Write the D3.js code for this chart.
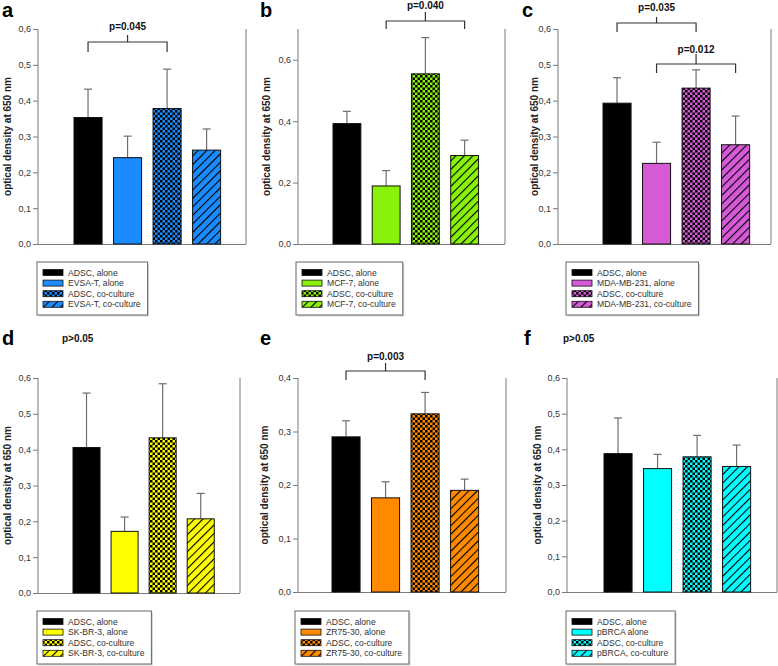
<!DOCTYPE html>
<html><head><meta charset="utf-8">
<script src="https://cdnjs.cloudflare.com/ajax/libs/d3/7.8.5/d3.min.js"></script>
<style>
html,body{margin:0;padding:0;background:#fff;}
svg{display:block;font-family:"Liberation Sans",Arial,sans-serif;}
</style></head>
<body>
<svg id="chart" width="778" height="666"></svg>
<script>
// ---------- DATA ----------
const panelLetters = ["a","b","c","d","e","f"];
const cellLines = ["EVSA-T","MCF-7","MDA-MB-231","SK-BR-3","ZR75-30","pBRCA"];
const groups = ["ADSC alone","cells alone","ADSC co-culture","cells co-culture"];
const legendA = ["ADSC, alone","EVSA-T, alone","ADSC, co-culture","EVSA-T, co-culture"];
const legendB = ["ADSC, alone","MCF-7, alone","ADSC, co-culture","MCF-7, co-culture"];
const legendC = ["ADSC, alone","MDA-MB-231, alone","ADSC, co-culture","MDA-MB-231, co-culture"];
const legendD = ["ADSC, alone","SK-BR-3, alone","ADSC, co-culture","SK-BR-3, co-culture"];
const legendE = ["ADSC, alone","ZR75-30, alone","ADSC, co-culture","ZR75-30, co-culture"];
const legendF = ["ADSC, alone","pBRCA alone","ADSC, co-culture","pBRCA, co-culture"];
const meanA = [0.353, 0.241, 0.378, 0.262];
const errA  = [0.079, 0.060, 0.110, 0.059];
const meanB = [0.392, 0.189, 0.554, 0.288];
const errB  = [0.040, 0.050, 0.118, 0.050];
const meanC = [0.393, 0.225, 0.435, 0.277];
const errC  = [0.071, 0.059, 0.051, 0.080];
const meanD = [0.406, 0.172, 0.433, 0.207];
const errD  = [0.152, 0.040, 0.151, 0.071];
const meanE = [0.290, 0.176, 0.333, 0.190];
const errE  = [0.030, 0.030, 0.040, 0.021];
const meanF = [0.388, 0.346, 0.379, 0.352];
const errF  = [0.100, 0.040, 0.060, 0.060];
const yMaxes = [0.6, 0.7, 0.6, 0.6, 0.4, 0.6];
const tickA = [0,0.1,0.2,0.3,0.4,0.5,0.6];
const tickB = [0,0.2,0.4,0.6];
const tickE = [0,0.1,0.2,0.3,0.4];
// significance: [fromBar, toBar, label]
const sigA = [[0,2,"p=0.045"]];
const sigB = [[1,3,"p=0.040"]];
const sigC = [[0,2,"p=0.035"],[1,3,"p=0.012"]];
const sigD = [[null,null,"p>0.05"]];
const sigE = [[0,2,"p=0.003"]];
const sigF = [[null,null,"p>0.05"]];
const cellColors = ["#1a8cff","#88f20a","#d65ad6","#ffff00","#ff8a00","#00ffff"];
const yTitle = "optical density at 650 nm";

// ---------- LAYOUT ----------
const layouts = [
 {ax:38, rx:246, top:29, bot:244, b0:74,  b1:210, lab:31, leg:[37,262],  letter:[2,17],
  sig:[{hy:42,dn:52,up:35,ty:30}]},
 {ax:298, rx:505, top:29, bot:244, b0:333, b1:468, lab:32, leg:[296,262], letter:[260,17],
  sig:[{hy:21,dn:29,up:12,ty:9}]},
 {ax:558, rx:771, top:29, bot:244, b0:603, b1:739, lab:24, leg:[566,262], letter:[522,17],
  sig:[{hy:23,dn:32,up:17,ty:11},{hy:64,dn:73,up:54,ty:52.5}]},
 {ax:38, rx:240, top:378, bot:593, b0:73, b1:204, lab:31, leg:[37,611], letter:[2,345],
  sig:[{tx:62,ty:342}]},
 {ax:298, rx:506, top:378, bot:592, b0:332, b1:468, lab:34, leg:[295,611], letter:[260,345],
  sig:[{hy:371,dn:380,up:363,ty:360}]},
 {ax:567, rx:777, top:378, bot:592, b0:604, b1:740, lab:30, leg:[566,611], letter:[524,345],
  sig:[{tx:563,ty:342}]}
];
const means = [meanA,meanB,meanC,meanD,meanE,meanF];
const errs = [errA,errB,errC,errD,errE,errF];
const legends = [legendA,legendB,legendC,legendD,legendE,legendF];
const ticks = [tickA,tickB,tickA,tickA,tickE,tickA];
const sigs = [sigA,sigB,sigC,sigD,sigE,sigF];

const svg = d3.select("#chart");
const defs = svg.append("defs");
const fmt = d3.formatLocale({decimal:",",thousands:".",grouping:[3],currency:["","€"]}).format(".1f");

cellColors.forEach((c,i)=>{
  const pc = defs.append("pattern").attr("id","chk"+i).attr("patternUnits","userSpaceOnUse")
    .attr("width",5).attr("height",5);
  pc.append("rect").attr("width",5).attr("height",5).attr("fill",c);
  pc.append("rect").attr("width",2.5).attr("height",2.5).attr("fill","#000");
  pc.append("rect").attr("x",2.5).attr("y",2.5).attr("width",2.5).attr("height",2.5).attr("fill","#000");
  const ph = defs.append("pattern").attr("id","hat"+i).attr("patternUnits","userSpaceOnUse")
    .attr("width",6).attr("height",6).attr("patternTransform","rotate(45)");
  ph.append("rect").attr("width",6).attr("height",6).attr("fill",c);
  ph.append("line").attr("x1",0).attr("y1",-1).attr("x2",0).attr("y2",7)
    .attr("stroke","#000").attr("stroke-width",2.2);
});

function fills(i){ return ["#000", cellColors[i], `url(#chk${i})`, `url(#hat${i})`]; }

layouts.forEach((L,i)=>{
  const g = svg.append("g");
  const y = d3.scaleLinear().domain([0,yMaxes[i]]).range([L.bot,L.top]);
  const x = d3.scaleBand().domain(groups).paddingInner(0.29).paddingOuter(0);
  const step = (L.b1-L.b0)/(groups.length-0.29);
  x.range([L.b0, L.b0 + step*groups.length]);
  const bw = x.bandwidth();
  const f = fills(i);

  // axes
  const ya = g.append("g").attr("transform",`translate(${L.ax},0)`)
    .call(d3.axisLeft(y).tickValues(ticks[i]).tickFormat(fmt).tickSize(5).tickPadding(2).tickSizeOuter(0));
  ya.select(".domain").attr("stroke","#7a7a7a").attr("d",`M0,${L.top}V${L.bot}`);
  ya.selectAll(".tick line").attr("stroke","#7a7a7a");
  ya.selectAll(".tick text").attr("fill","#333").style("font-size","9px")
    .style("font-family","'Liberation Sans',Arial,sans-serif");
  g.append("line").attr("x1",L.ax).attr("x2",L.rx).attr("y1",L.bot+0.5).attr("y2",L.bot+0.5)
    .attr("stroke","#7a7a7a");
  g.append("line").attr("x1",L.rx).attr("x2",L.rx).attr("y1",L.top).attr("y2",L.bot)
    .attr("stroke","#7a7a7a");

  // y title
  g.append("text").attr("transform",`translate(${L.ax-L.lab},${(L.top+L.bot)/2}) rotate(-90)`)
    .attr("text-anchor","middle").attr("dominant-baseline","central")
    .style("font-size","10px").style("font-weight","bold").attr("fill","#222").text(yTitle);

  // error bars
  groups.forEach((gr,k)=>{
    const cx = x(gr)+bw/2;
    const yt = y(means[i][k]), ye = y(means[i][k]+errs[i][k]);
    g.append("line").attr("x1",cx).attr("x2",cx).attr("y1",yt).attr("y2",ye).attr("stroke","#6e6e6e").attr("stroke-width",1.2);
    g.append("line").attr("x1",cx-4).attr("x2",cx+4).attr("y1",ye).attr("y2",ye).attr("stroke","#6e6e6e").attr("stroke-width",1.2);
  });
  // bars
  g.selectAll("rect.bar").data(means[i]).enter().append("rect").attr("class","bar")
    .attr("x",(d,k)=>x(groups[k])).attr("width",bw)
    .attr("y",d=>y(d)).attr("height",d=>L.bot-y(d))
    .attr("fill",(d,k)=>f[k]).attr("stroke","#111").attr("stroke-width",1);

  // significance
  sigs[i].forEach((s,j)=>{
    const P = L.sig[j];
    if (s[0]===null){
      g.append("text").attr("x",P.tx).attr("y",P.ty).style("font-size","10px").style("font-weight","bold")
        .attr("fill","#111").text(s[2]);
      return;
    }
    const xa = x(groups[s[0]])+bw/2, xb = x(groups[s[1]])+bw/2, xm=(xa+xb)/2;
    g.append("path").attr("d",`M${xa},${P.dn}V${P.hy}H${xb}V${P.dn}M${xm},${P.hy}V${P.up}`)
      .attr("fill","none").attr("stroke","#333").attr("stroke-width",1.2);
    g.append("text").attr("x",xm).attr("y",P.ty).attr("text-anchor","middle")
      .style("font-size","10px").style("font-weight","bold").attr("fill","#111").text(s[2]);
  });

  // panel letter
  g.append("text").attr("x",L.letter[0]).attr("y",L.letter[1]).style("font-size","20px")
    .style("font-weight","bold").attr("fill","#000").text(panelLetters[i]);

  // legend
  const lg = g.append("g").attr("transform",`translate(${L.leg[0]},${L.leg[1]})`);
  const shadow = lg.append("rect").attr("x",1.5).attr("y",1.5).attr("fill","#d8d8d8");
  const box = lg.append("rect").attr("fill","#fff").attr("stroke","#666").attr("stroke-width",1);
  let maxW = 0;
  legends[i].forEach((t,k)=>{
    const cy = 10.5 + k*10.6;
    lg.append("rect").attr("x",6).attr("y",cy-3).attr("width",20).attr("height",6)
      .attr("fill",f[k]).attr("stroke","#111").attr("stroke-width",0.8);
    const tx = lg.append("text").attr("x",31).attr("y",cy).attr("dominant-baseline","central")
      .style("font-size","8.6px").attr("fill","#333").text(t);
    maxW = Math.max(maxW, tx.node().getComputedTextLength());
  });
  const W = 31+maxW+7, H = 53;
  box.attr("width",W).attr("height",H);
  shadow.attr("width",W).attr("height",H);
});
</script>
</body></html>
